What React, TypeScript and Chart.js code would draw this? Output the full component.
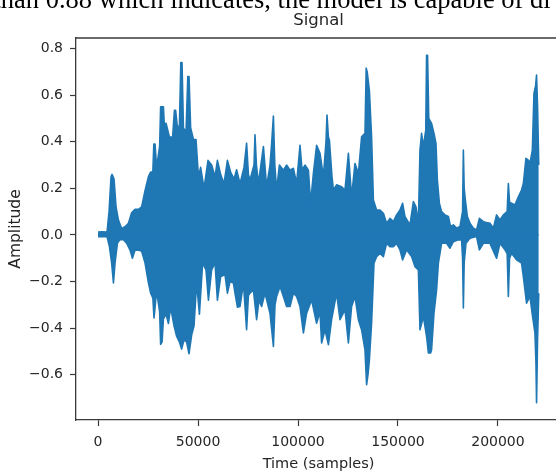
import React, { useEffect, useRef } from 'react';
import { Chart, registerables } from 'chart.js';

Chart.register(...registerables);

// Waveform envelope: positive peaks (sample index, amplitude)
const upperSamples = [
  0, 2000, 4500, 5500, 6500, 7000, 8000, 9000, 10200, 11800, 13500, 15200, 16800, 18500, 20200, 21800,
  23500, 25200, 26300, 27400, 27900, 28500, 29300, 30800, 31300, 32700, 33200, 34000, 35700, 37300, 38200,
  38800, 39700, 40700, 41400, 42000, 42700, 44000, 44900, 45500, 46300, 47700, 49000, 50200, 51300, 53000,
  55000, 56800, 58500, 59700, 61300, 63000, 64700, 66300, 68000, 69300, 71000, 73000, 74300, 75200, 76000,
  78000, 78500, 79200, 80200, 82700, 84300, 86000, 86800, 87700, 88400, 89300, 90700, 92700, 94300, 96000,
  97700, 99300, 101000, 102000, 103500, 105200, 106300, 107700, 109300, 111000, 112700, 114000, 114500,
  115200, 115700, 117000, 117700, 119300, 121800, 123500, 125200, 126800, 128500, 130200, 131800, 133500,
  134100, 134600, 135700, 136800, 137700, 139300, 141000, 142700, 144300, 146000, 147700, 149300, 151000,
  152300, 153500, 156000, 157700, 159000, 160200, 161000, 161800, 162700, 163900, 164300, 164800, 165400,
  166800, 168000, 169000, 169700, 170700, 171800, 173500, 175200, 176300, 177700, 179300, 181000, 182300,
  182700, 183100, 183700, 184700, 186000, 187700, 189300, 190700, 192700, 194300, 196000, 197700, 199300,
  201000, 202700, 204600, 205200, 205800, 206800, 208500, 210200, 211800, 212700, 214000, 215200, 216000,
  217200, 218000, 218800, 219300, 219800, 220400,
];
const upperAmp = [
  0.012, 0.014, 0.012, 0.1, 0.25, 0.26, 0.24, 0.12, 0.064, 0.028, 0.035, 0.05, 0.095, 0.11, 0.11, 0.12,
  0.19, 0.25, 0.27, 0.27, 0.39, 0.39, 0.29, 0.38, 0.55, 0.55, 0.46, 0.48, 0.42, 0.42, 0.535,
  0.535, 0.46, 0.47, 0.74, 0.74, 0.46, 0.44, 0.68, 0.68, 0.46, 0.41, 0.41, 0.25, 0.29, 0.2,
  0.32, 0.3, 0.25, 0.32, 0.26, 0.22, 0.32, 0.27, 0.24, 0.28, 0.22, 0.29, 0.394, 0.26, 0.236,
  0.3, 0.43, 0.3, 0.22, 0.38, 0.207, 0.3, 0.39, 0.51, 0.3, 0.193, 0.3, 0.278, 0.3, 0.278,
  0.286, 0.221, 0.385, 0.28, 0.3, 0.278, 0.137, 0.265, 0.385, 0.35, 0.25, 0.4, 0.515,
  0.42, 0.407, 0.25, 0.193, 0.215, 0.207, 0.193, 0.35, 0.164, 0.307, 0.264, 0.421, 0.436,
  0.716, 0.7, 0.62, 0.421, 0.15, 0.107, 0.107, 0.093, 0.05, 0.071, 0.057, 0.086, 0.107,
  0.136, 0.079, 0.043, 0.143, 0.121, 0.05, 0.364, 0.436, 0.379, 0.45, 0.771, 0.771, 0.5,
  0.479, 0.436, 0.393, 0.236, 0.136, 0.1, 0.086, 0.079, 0.036, 0.043, 0.029, 0.036, 0.1,
  0.364, 0.2, 0.15, 0.079, 0.05, 0.029, 0.021, 0.071, 0.057, 0.053, 0.05, 0.029, 0.086,
  0.064, 0.086, 0.1, 0.221, 0.14, 0.136, 0.129, 0.164, 0.193, 0.221, 0.329, 0.321, 0.307,
  0.364, 0.607, 0.64, 0.686, 0.55, 0.3,
];

// Waveform envelope: negative peaks (sample index, amplitude)
const lowerSamples = [
  0, 4500, 5700, 6800, 7700, 8500, 9700, 11000, 12700, 14300, 16000, 17200, 18500, 20200, 21800, 23500,
  25200, 26300, 27400, 28000, 29300, 30800, 31300, 32000, 32700, 34000, 35200, 36300, 38000, 39300, 40700,
  41800, 43000, 44300, 45500, 46800, 48000, 49300, 50700, 52300, 54000, 55200, 56800, 58500, 59700, 61300,
  63500, 64700, 66000, 67700, 68500, 69700, 71000, 72700, 74300, 75200, 76000, 77700, 79300, 80500, 81800,
  83500, 86000, 87700, 88500, 89300, 91000, 92700, 94300, 96000, 97700, 99300, 101000, 102700, 104300,
  106800, 109300, 111000, 111800, 113500, 115200, 116800, 119300, 121000, 123500, 125200, 126800, 128500,
  130200, 131800, 133500, 134300, 135000, 135700, 136800, 138000, 139300, 141000, 142700, 144300, 146000,
  147700, 149300, 151000, 152300, 154300, 156800, 158500, 160200, 161000, 162700, 164300, 165200, 166300,
  166800, 168000, 169300, 170200, 171800, 174300, 176000, 177700, 180200, 181800, 182300, 182700, 183100,
  184000, 186000, 189300, 190700, 192700, 196000, 199300, 201000, 203500, 204600, 205200, 205800, 206800,
  209300, 211800, 212700, 214300, 216000, 217300, 218500, 219000, 219300, 219800, 220400,
];
const lowerAmp = [
  -0.008, -0.008, -0.05, -0.12, -0.206, -0.12, -0.035, -0.02, -0.02, -0.035, -0.065, -0.1, -0.065, -0.065, -0.07, -0.12,
  -0.206, -0.25, -0.27, -0.356, -0.24, -0.33, -0.47, -0.46, -0.36, -0.34, -0.38, -0.31, -0.39, -0.435, -0.46,
  -0.49, -0.45, -0.46, -0.51, -0.43, -0.39, -0.206, -0.34, -0.12, -0.15, -0.28, -0.15, -0.12, -0.28, -0.18,
  -0.17, -0.25, -0.2, -0.207, -0.25, -0.31, -0.307, -0.207, -0.407, -0.26, -0.25, -0.236, -0.364, -0.28, -0.307,
  -0.25, -0.336, -0.479, -0.3, -0.264, -0.221, -0.264, -0.307, -0.307, -0.25, -0.264, -0.307, -0.421, -0.336,
  -0.279, -0.379, -0.33, -0.464, -0.407, -0.471, -0.364, -0.25, -0.364, -0.321, -0.464, -0.307, -0.264,
  -0.364, -0.407, -0.493, -0.643, -0.6, -0.536, -0.379, -0.121, -0.093, -0.079, -0.093, -0.036, -0.05,
  -0.05, -0.036, -0.064, -0.107, -0.064, -0.093, -0.136, -0.15, -0.407, -0.35, -0.436, -0.507, -0.507,
  -0.493, -0.336, -0.236, -0.121, -0.036, -0.036, -0.057, -0.029, -0.021, -0.021, -0.1, -0.314, -0.12,
  -0.036, -0.014, -0.007, -0.064, -0.036, -0.036, -0.1, -0.036, -0.064, -0.08, -0.264, -0.1, -0.079,
  -0.107, -0.121, -0.179, -0.293, -0.264, -0.35, -0.421, -0.55, -0.72, -0.45, -0.25,
];

const SIGNAL_LENGTH = 220500;
const xTickValues = [0, 50000, 100000, 150000, 200000];
const yTickValues = [-0.6, -0.4, -0.2, 0, 0.2, 0.4, 0.6, 0.8];

const LINE_BLUE = '#1f77b4';
const INK = '#262626';
const SPINE = '#3a3a3a';
const SANS = '"DejaVu Sans", Verdana, sans-serif';

const CANVAS_W = 600;
const CANVAS_H = 473;

function App() {
  const canvasRef = useRef<HTMLCanvasElement | null>(null);

  useEffect(() => {
    const canvas = canvasRef.current;
    if (!canvas) return;

    const allAmps = upperAmp.concat(lowerAmp);
    const dataMax = Math.max(...allAmps);
    const dataMin = Math.min(...allAmps);
    const yPad = (dataMax - dataMin) * 0.05;
    const xPad = SIGNAL_LENGTH * 0.05;

    // top/right spines and the plot title
    const frameAndTitle = {
      id: 'frameAndTitle',
      afterDraw(chart: any) {
        const { ctx, chartArea } = chart;
        ctx.save();
        ctx.strokeStyle = SPINE;
        ctx.lineWidth = 1.3;
        ctx.beginPath();
        ctx.moveTo(chartArea.left, chartArea.top);
        ctx.lineTo(chartArea.right, chartArea.top);
        ctx.lineTo(chartArea.right, chartArea.bottom);
        ctx.stroke();
        ctx.fillStyle = INK;
        ctx.font = `16.5px ${SANS}`;
        ctx.textAlign = 'center';
        ctx.textBaseline = 'alphabetic';
        ctx.fillText('Signal', (chartArea.left + chartArea.right) / 2, 25);
        ctx.restore();
      },
    };

    const envelopeStyle = {
      borderColor: LINE_BLUE,
      backgroundColor: LINE_BLUE,
      borderWidth: 1.6,
      borderJoinStyle: 'round',
      pointRadius: 0,
      tension: 0,
    };

    const chart = new Chart(canvas, {
      type: 'line',
      data: {
        datasets: [
          {
            ...envelopeStyle,
            data: upperSamples.map((s, i) => ({ x: s, y: upperAmp[i] })),
            fill: { value: -0.004 },
          },
          {
            ...envelopeStyle,
            data: lowerSamples.map((s, i) => ({ x: s, y: lowerAmp[i] })),
            fill: { value: 0.004 },
          },
        ],
      },
      options: {
        responsive: false,
        animation: false,
        events: [],
        layout: { padding: { top: 38, right: 39, left: 0, bottom: 0 } },
        plugins: {
          legend: { display: false },
          tooltip: { enabled: false },
          title: { display: false },
        },
        scales: {
          x: {
            type: 'linear',
            min: -xPad,
            max: SIGNAL_LENGTH + xPad,
            afterBuildTicks: (scale: any) => {
              scale.ticks = xTickValues.map((v) => ({ value: v }));
            },
            afterFit: (scale: any) => {
              scale.height = 53;
            },
            grid: {
              display: true,
              drawOnChartArea: false,
              drawTicks: true,
              tickLength: 6,
              tickColor: SPINE,
              tickWidth: 1.2,
            },
            border: { display: true, color: SPINE, width: 1.3 },
            ticks: {
              color: INK,
              font: { family: SANS, size: 14 },
              padding: 8,
              maxRotation: 0,
              autoSkip: false,
              callback: (v: any) => String(v),
            },
            title: {
              display: true,
              text: 'Time (samples)',
              color: INK,
              font: { family: SANS, size: 14.5 },
              padding: { top: 0, bottom: 0 },
            },
          },
          y: {
            type: 'linear',
            min: dataMin - yPad,
            max: dataMax + yPad,
            afterBuildTicks: (scale: any) => {
              scale.ticks = yTickValues.map((v) => ({ value: v }));
            },
            afterFit: (scale: any) => {
              scale.width = 76;
            },
            grid: {
              display: true,
              drawOnChartArea: false,
              drawTicks: true,
              tickLength: 6,
              tickColor: SPINE,
              tickWidth: 1.2,
            },
            border: { display: true, color: SPINE, width: 1.3 },
            ticks: {
              color: INK,
              font: { family: SANS, size: 14 },
              padding: 7,
              autoSkip: false,
              callback: (v: any) => Number(v).toFixed(1).replace('-', '\u2212'),
            },
            title: {
              display: true,
              text: 'Amplitude',
              color: INK,
              font: { family: SANS, size: 15.5 },
              padding: { top: 7, bottom: 0 },
            },
          },
        },
      },
      plugins: [frameAndTitle],
    } as any);

    return () => chart.destroy();
  }, []);

  return (
    <div
      style={{
        position: 'fixed',
        left: 0,
        top: 0,
        width: 556,
        height: 473,
        overflow: 'hidden',
        background: '#ffffff',
      }}
    >
      <canvas
        ref={canvasRef}
        width={CANVAS_W}
        height={CANVAS_H}
        style={{ position: 'absolute', left: 0, top: 0, width: CANVAS_W, height: CANVAS_H }}
      />
      <div
        style={{
          position: 'absolute',
          left: -6.5,
          top: -14,
          fontFamily: '"Liberation Serif", "Times New Roman", serif',
          fontSize: 26.5,
          lineHeight: '26.5px',
          whiteSpace: 'nowrap',
          color: '#000',
        }}
      >
        than 0.88 which indicates, the model is capable of di
      </div>
    </div>
  );
}

export default App;
